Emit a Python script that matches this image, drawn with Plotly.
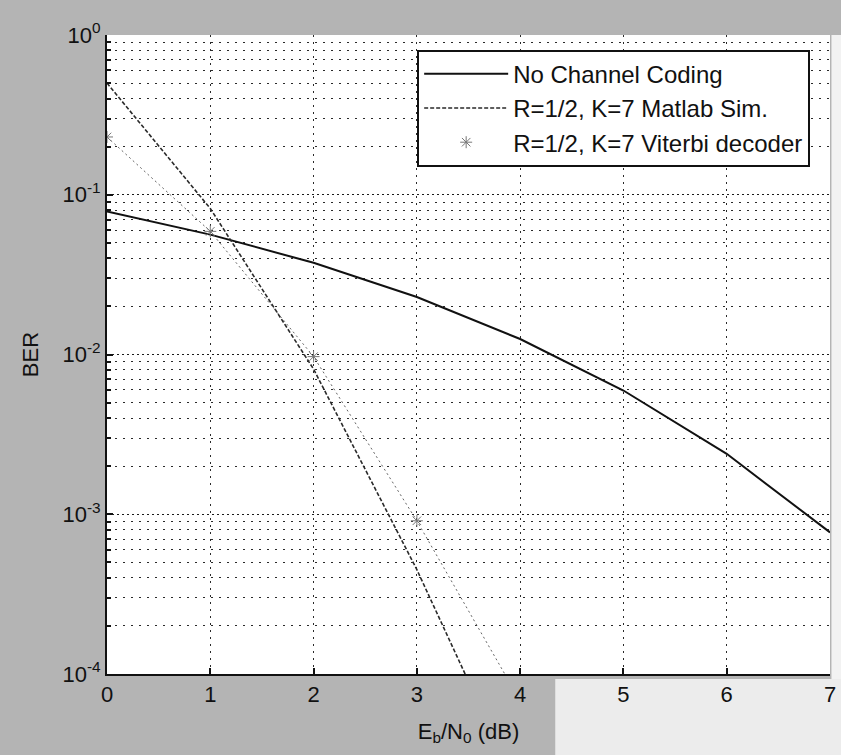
import plotly.graph_objects as go

# ---- data ----
ebn0 = [0, 1, 2, 3, 4, 5, 6, 7]
ber_uncoded = [0.0786, 0.0563, 0.0375, 0.0229, 0.0125, 0.00595, 0.00239, 0.00077]

ebn0_coded = [0, 1, 2, 3, 4]
ber_matlab_sim = [0.50, 0.082, 0.0081, 4.5e-4, 1.8e-5]
ber_viterbi = [0.23, 0.059, 0.0097, 9.1e-4, 6.8e-5]

y_tick_vals = [1e-4, 1e-3, 1e-2, 1e-1, 1e0]
y_tick_text = ["10<sup>-4</sup>", "10<sup>-3</sup>", "10<sup>-2</sup>", "10<sup>-1</sup>", "10<sup>0</sup>"]
x_tick_vals = [0, 1, 2, 3, 4, 5, 6, 7]

minor_vals = [m * 10 ** e for e in range(-4, 0) for m in range(2, 10)]

FONT = "Liberation Sans, Arial, sans-serif"

fig = go.Figure()

fig.add_trace(go.Scatter(
    x=ebn0, y=ber_uncoded, mode="lines", name="No Channel Coding",
    line=dict(color="#111111", width=2),
))
fig.add_trace(go.Scatter(
    x=ebn0_coded, y=ber_matlab_sim, mode="lines", name="R=1/2, K=7 Matlab Sim.",
    line=dict(color="#2a2a2a", width=1.6, dash="4px,2px"),
))
fig.add_trace(go.Scatter(
    x=ebn0_coded, y=ber_viterbi, mode="lines", showlegend=False,
    line=dict(color="#666666", width=1, dash="2px,3px"),
    hoverinfo="skip",
))
fig.add_trace(go.Scatter(
    x=ebn0_coded, y=ber_viterbi, mode="markers", name="R=1/2, K=7 Viterbi decoder",
    marker=dict(symbol="asterisk-open", size=10, color="#777777",
                line=dict(color="#777777", width=1)),
))

# background tone approximations of the scanned page
fig.add_shape(type="rect", xref="paper", yref="paper", x0=0.62, x1=1.2, y0=-0.2, y1=-0.008,
              fillcolor="#ececec", line=dict(width=0), layer="below")
fig.add_shape(type="rect", xref="paper", yref="paper", x0=1.002, x1=1.2, y0=-0.008, y1=1.0,
              fillcolor="#f2f2f2", line=dict(width=0), layer="below")

fig.update_layout(
    width=841, height=755,
    margin=dict(l=107, r=11, t=35, b=81),
    paper_bgcolor="#b4b4b4",
    plot_bgcolor="white",
    font=dict(family=FONT, size=22, color="#111111"),
    showlegend=True,
    legend=dict(
        x=0.429, y=0.977, xanchor="left", yanchor="top",
        bgcolor="white", bordercolor="#111111", borderwidth=2,
        font=dict(family=FONT, size=24, color="#111111"),
        itemwidth=84,
        tracegroupgap=0,
    ),
)

fig.update_xaxes(
    range=[0, 7], automargin=False,
    tickmode="array", tickvals=x_tick_vals,
    ticks="inside", ticklen=6, tickwidth=2, tickcolor="#111111",
    showline=True, linecolor="#111111", linewidth=2, mirror=False,
    showgrid=True, gridcolor="#2a2a2a", gridwidth=1.3, griddash="2px,5px",
    zeroline=False,
    title=dict(text="E<sub>b</sub>/N<sub>0</sub> (dB)", font=dict(family=FONT, size=22), standoff=17),
    tickfont=dict(family=FONT, size=22),
)

fig.update_yaxes(
    type="log", range=[-4, 0], automargin=False,
    tickmode="array", tickvals=y_tick_vals, ticktext=y_tick_text,
    ticks="inside", ticklen=6, tickwidth=2, tickcolor="#111111",
    showline=True, linecolor="#111111", linewidth=2, mirror=False,
    showgrid=True, gridcolor="#1a1a1a", gridwidth=1.4, griddash="2px,3px",
    minor=dict(tickvals=minor_vals, ticks="inside", ticklen=4, tickcolor="#111111",
               showgrid=True, gridcolor="#2a2a2a", gridwidth=1.3, griddash="2px,6px"),
    zeroline=False,
    title=dict(text="BER", font=dict(family=FONT, size=22), standoff=18),
    tickfont=dict(family=FONT, size=22),
)

fig.write_html("out.html", config={"displayModeBar": False},
               post_script="document.body.style.margin='0';")
